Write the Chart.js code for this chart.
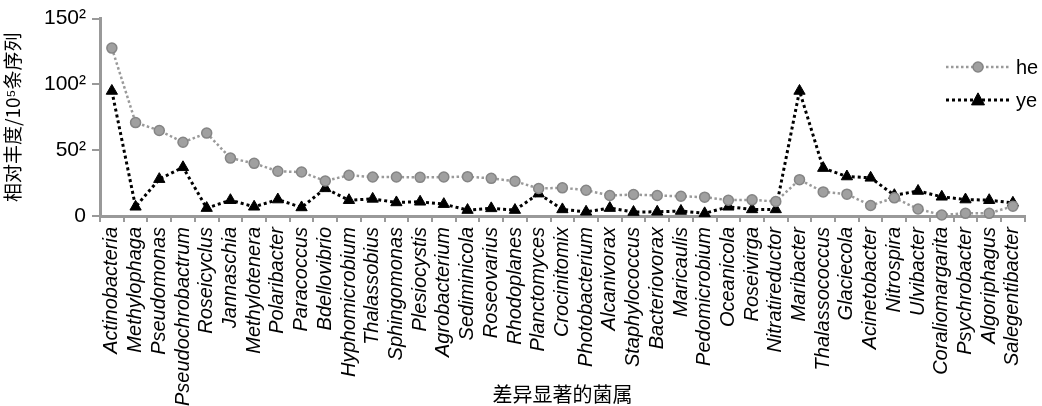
<!DOCTYPE html>
<html>
<head>
<meta charset="utf-8">
<script src="https://cdn.jsdelivr.net/npm/chart.js@4/dist/chart.umd.min.js"></script>
<style>
  html, body { margin: 0; padding: 0; background: #fff; }
  canvas { display: block; }
</style>
</head>
<body>
<canvas id="chart" width="1042" height="406"></canvas>
<script>
// 差异显著的菌属
const categories = [
  'Actinobacteria', 'Methylophaga', 'Pseudomonas', 'Pseudochrobactrum', 'Roseicyclus',
  'Jannaschia', 'Methylotenera', 'Polaribacter', 'Paracoccus', 'Bdellovibrio',
  'Hyphomicrobium', 'Thalassobius', 'Sphingomonas', 'Plesiocystis', 'Agrobacterium',
  'Sediminicola', 'Roseovarius', 'Rhodoplanes', 'Planctomyces', 'Crocinitomix',
  'Photobacterium', 'Alcanivorax', 'Staphylococcus', 'Bacteriovorax', 'Maricaulis',
  'Pedomicrobium', 'Oceanicola', 'Roseivirga', 'Nitratireductor', 'Maribacter',
  'Thalassococcus', 'Glaciecola', 'Acinetobacter', 'Nitrospira', 'Ulvibacter',
  'Coraliomargarita', 'Psychrobacter', 'Algoriphagus', 'Salegentibacter'
]

// 纵轴为平方根刻度：这里存的是丰度的平方根
const heValues = [
  127.6, 71, 65, 56, 63, 44, 40, 34, 33.4, 26.6,
  31, 29.6, 29.6, 29.4, 29.6, 29.9, 28.6, 26.4, 20.9, 21.4,
  19.6, 15.6, 16.3, 15.6, 15, 14.3, 12, 12.3, 11, 27.6,
  18.3, 16.6, 8, 13.8, 5.3, 0.8, 2, 2, 7.5
]
const yeValues = [
  95, 7, 28, 37, 6, 12, 7, 12.5, 6.5, 21,
  12, 13, 10.3, 10.8, 9, 4.5, 5.8, 4.5, 17, 5,
  3.2, 6, 3, 3.2, 3.8, 2, 7, 5, 5, 95,
  36.4, 30, 29, 15.8, 19, 14.6, 12.5, 12, 10
]

const yTickValues = [0, 50, 100, 150]
const yTickLabels = ['0', '50²', '100²', '150²']

const seriesNames = ['he', 'ye']

const axisColor = '#999999'
const fontFamily = '"Liberation Sans", Arial, sans-serif'
const cjkFont = '"Noto Sans CJK SC", sans-serif'

// 自定义图例：虚线 + 标记 + 文字
const dottedLegend = {
  id: 'dottedLegend',
  afterDraw(chart) {
    const ctx = chart.ctx
    const x0 = 946, x1 = 1010, rows = [67, 100]
    chart.data.datasets.forEach((ds, i) => {
      const y = rows[i]
      const cx = (x0 + x1) / 2
      ctx.save()
      ctx.strokeStyle = ds.borderColor
      ctx.lineWidth = ds.borderWidth
      ctx.setLineDash(ds.borderDash)
      ctx.beginPath()
      ctx.moveTo(x0, y)
      ctx.lineTo(x1, y)
      ctx.stroke()
      ctx.setLineDash([])
      ctx.fillStyle = ds.pointBackgroundColor
      ctx.strokeStyle = ds.pointBorderColor
      ctx.lineWidth = ds.pointBorderWidth
      ctx.beginPath()
      if (ds.pointStyle === 'circle') {
        ctx.arc(cx, y, ds.pointRadius, 0, Math.PI * 2)
      } else {
        const r = ds.pointRadius
        ctx.moveTo(cx, y - r * 1.1)
        ctx.lineTo(cx + r, y + r * 0.75)
        ctx.lineTo(cx - r, y + r * 0.75)
        ctx.closePath()
      }
      ctx.fill()
      ctx.stroke()
      ctx.fillStyle = '#000'
      ctx.font = '20px ' + fontFamily
      ctx.textBaseline = 'middle'
      ctx.fillText(ds.label, 1016, y + 1)
      ctx.restore()
    })
  }
}

const ctx = document.getElementById('chart').getContext('2d')
new Chart(ctx, {
  type: 'line',
  data: {
    labels: categories,
    datasets: [
      {
        label: seriesNames[0],
        data: heValues,
        borderColor: '#9a9a9a',
        borderWidth: 2.5,
        borderDash: [2.5, 2.5],
        pointStyle: 'circle',
        pointRadius: 5,
        pointBackgroundColor: '#a0a0a0',
        pointBorderColor: '#858585',
        pointBorderWidth: 1.5,
        tension: 0,
        clip: false
      },
      {
        label: seriesNames[1],
        data: yeValues,
        borderColor: '#000000',
        borderWidth: 3,
        borderDash: [3, 3],
        pointStyle: 'triangle',
        pointRadius: 6.5,
        pointBackgroundColor: '#000000',
        pointBorderColor: '#000000',
        pointBorderWidth: 1,
        tension: 0,
        clip: false
      }
    ]
  },
  options: {
    responsive: false,
    animation: false,
    devicePixelRatio: 1,
    layout: { padding: { top: 17, right: 0, bottom: 0, left: 0 } },
    plugins: {
      legend: { display: false },
      tooltip: { enabled: false }
    },
    scales: {
      x: {
        type: 'category',
        offset: true,
        grid: {
          offset: true,
          drawOnChartArea: false,
          drawTicks: true,
          tickLength: 6,
          color: axisColor,
          lineWidth: 2
        },
        border: { color: axisColor, width: 3 },
        ticks: {
          autoSkip: false,
          minRotation: 90,
          maxRotation: 90,
          padding: 5,
          color: '#000',
          font: { family: fontFamily, size: 20, style: 'italic' }
        },
        title: {
          display: true,
          text: '差异显著的菌属',
          color: '#000',
          padding: { top: 0, bottom: 0 },
          font: { family: cjkFont, size: 20 }
        },
        afterFit(scale) { scale.height = 190 }
      },
      y: {
        min: 0,
        max: 150,
        afterBuildTicks(scale) {
          scale.ticks = yTickValues.map(v => ({ value: v }))
        },
        grid: {
          drawOnChartArea: false,
          drawTicks: true,
          tickLength: 8,
          color: axisColor,
          lineWidth: 2
        },
        border: { color: axisColor, width: 3 },
        ticks: {
          padding: 6,
          color: '#000',
          font: { family: fontFamily, size: 21 },
          callback: (v) => yTickLabels[yTickValues.indexOf(v)]
        },
        title: {
          display: true,
          text: '相对丰度/10⁵条序列',
          color: '#000',
          padding: { top: 1, bottom: 0 },
          font: { family: cjkFont, size: 19 }
        },
        afterFit(scale) { scale.width = 100 }
      }
    }
  },
  plugins: [dottedLegend]
})
</script>
</body>
</html>
